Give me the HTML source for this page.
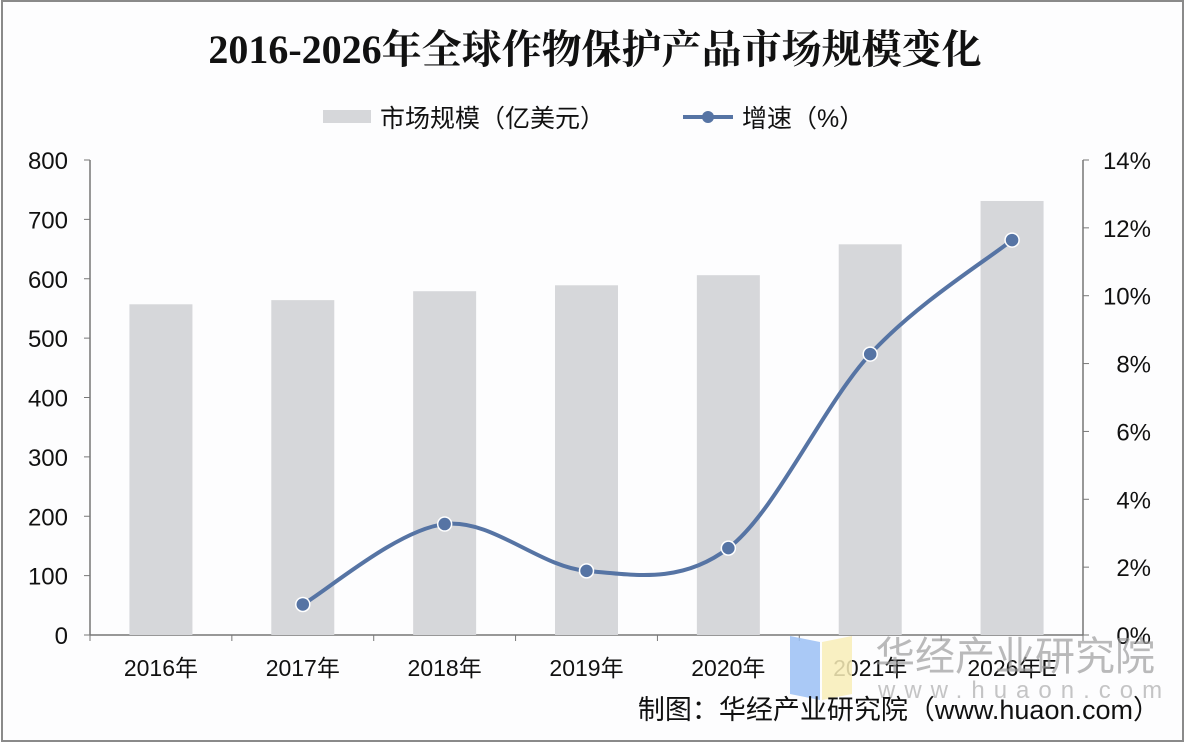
<!DOCTYPE html>
<html><head><meta charset="utf-8"><style>
body{margin:0;background:#fff;}
svg{display:block;font-family:"Liberation Sans","Noto Sans CJK SC",sans-serif;}
</style></head><body>
<svg id="c" width="1186" height="744" viewBox="0 0 1186 744">
<rect x="2" y="1" width="1181" height="740" fill="#fdfdfe" stroke="#8a8a8a" stroke-width="2"/>
<text x="595" y="63" text-anchor="middle" font-size="40" font-weight="bold" fill="#111" font-family="'Liberation Serif','Noto Serif CJK SC',serif">2016-2026年全球作物保护产品市场规模变化</text>
<g>
<rect x="323" y="110" width="48" height="13" fill="#d6d7da"/>
<text x="380" y="127" font-size="25" fill="#111">市场规模（亿美元）</text>
<line x1="683" y1="117" x2="733" y2="117" stroke="#5674a4" stroke-width="4"/>
<circle cx="708" cy="117" r="6" fill="#5674a4"/>
<text x="742" y="127" font-size="25" fill="#111">增速（%）</text>
</g>
<g id="axes"></g><g id="bars"></g><g id="line"></g>
<g opacity="0.85">
<polygon points="790,636 820,642 820,700 790,694" fill="#9cc1f5"/>
<polygon points="822,642 852,636 852,694 822,700" fill="#f9eeb8"/>
<text x="875" y="670" font-size="40" fill="#9a9a9a" opacity="0.8">华经产业研究院</text>
<text x="878" y="698" font-size="24" fill="#aaa" letter-spacing="9" opacity="0.8">www.huaon.com</text>
</g>
<text x="1160" y="719" text-anchor="end" font-size="27" fill="#111">制图：华经产业研究院（www.huaon.com）</text>
</svg>
<script>
const categories=["2016年","2017年","2018年","2019年","2020年","2021年","2026年E"];
const marketSize=[557,564,579,589,606,658,731];
const growthCats=["2017年","2018年","2019年","2020年","2021年","2026年E"];
const growth=[0.9,3.27,1.89,2.56,8.28,11.64];
const leftTicks=[0,100,200,300,400,500,600,700,800];
const rightTicks=[0,2,4,6,8,10,12,14];
const NS="http://www.w3.org/2000/svg";
const X0=90,X1=1083,Y0=635,Y1=160;
const band=(X1-X0)/categories.length;
const xc=c=>X0+band*(categories.indexOf(c)+0.5);
const yl=v=>Y0-(v/800)*(Y0-Y1);
const yr=v=>Y0-(v/14)*(Y0-Y1);
function mk(t,a,p){const e=document.createElementNS(NS,t);for(const k in a)e.setAttribute(k,a[k]);p.appendChild(e);return e;}
const ax=document.getElementById('axes');
let e=mk('line',{x1:X0,y1:Y1,x2:X0,y2:Y0,stroke:'#777','stroke-width':1.5},ax);


e=mk('line',{x1:X1,y1:Y1,x2:X1,y2:Y0,stroke:'#777','stroke-width':1.5},ax);


e=mk('line',{x1:X0,y1:Y0,x2:X1,y2:Y0,stroke:'#777','stroke-width':1.5},ax);


leftTicks.forEach(v=>{
 mk('line',{x1:X0-6,y1:yl(v),x2:X0,y2:yl(v),stroke:'#777'},ax);
 const t=mk('text',{x:68,y:yl(v)+9,'text-anchor':'end','font-size':24,fill:'#111'},ax);t.textContent=v;
 
 
});
rightTicks.forEach(v=>{
 mk('line',{x1:X1,y1:yr(v),x2:X1+6,y2:yr(v),stroke:'#777'},ax);
 const t=mk('text',{x:1151,y:yr(v)+9,'text-anchor':'end','font-size':24,fill:'#111'},ax);t.textContent=v+'%';
 
 
});
for(let i=0;i<=categories.length;i++)mk('line',{x1:X0+band*i,y1:Y0,x2:X0+band*i,y2:Y0+6,stroke:'#777'},ax);
categories.forEach(c=>{
 const t=mk('text',{x:xc(c),y:676,'text-anchor':'middle','font-size':23,fill:'#111'},ax);t.textContent=c;
 
 
});
const bg=document.getElementById('bars');
categories.forEach((c,i)=>{
 const r=mk('rect',{x:xc(c)-31.5,y:yl(marketSize[i]),width:63,height:Y0-yl(marketSize[i]),fill:'#d6d7da'},bg);
 
 
});
const lg=document.getElementById('line');
const pts=growthCats.map((c,i)=>[xc(c),yr(growth[i])]);
let d=`M${pts[0][0]},${pts[0][1]}`;
for(let i=0;i<pts.length-1;i++){
 const p0=pts[Math.max(0,i-1)],p1=pts[i],p2=pts[i+1],p3=pts[Math.min(pts.length-1,i+2)];
 const c1=[p1[0]+(p2[0]-p0[0])/6,p1[1]+(p2[1]-p0[1])/6],c2=[p2[0]-(p3[0]-p1[0])/6,p2[1]-(p3[1]-p1[1])/6];
 d+=` C${c1[0]},${c1[1]} ${c2[0]},${c2[1]} ${p2[0]},${p2[1]}`;
}
const path=mk('path',{d:d,fill:'none',stroke:'#5674a4','stroke-width':4},lg);


pts.forEach((p,i)=>{
 const c=mk('circle',{cx:p[0],cy:p[1],r:7,fill:'#5674a4',stroke:'#fff','stroke-width':1.5},lg);
 
 
});
</script>
</body></html>
